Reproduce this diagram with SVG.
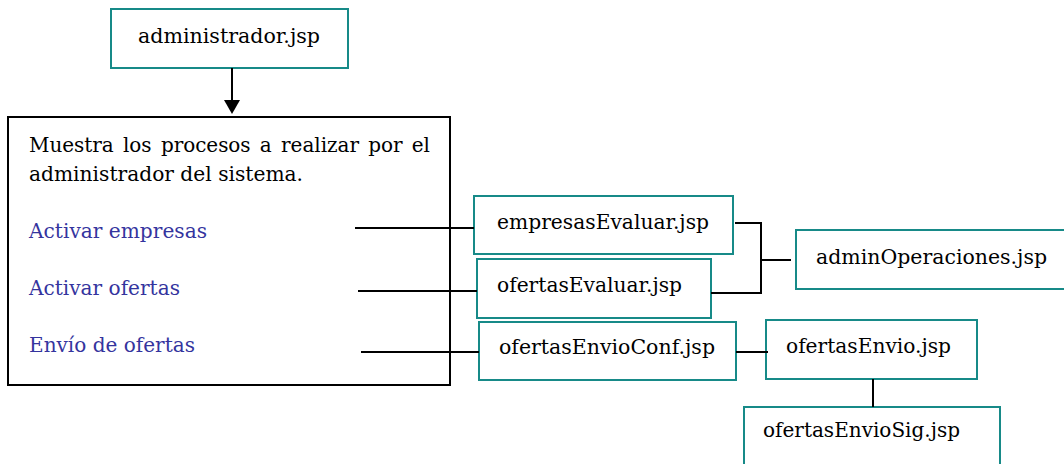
<svg xmlns="http://www.w3.org/2000/svg" width="1064" height="464" viewBox="0 0 1064 464">
<style>
.box{fill:#fff;stroke:#178a88;stroke-width:2}
.main{fill:#fff;stroke:#000;stroke-width:2}
.t{font-family:"DejaVu Serif","Liberation Serif",serif;font-size:20px;fill:#000}
.b{fill:#34349e}
.c{stroke:#000;stroke-width:2;fill:none}
</style>
<rect width="1064" height="464" fill="#fff"/>
<g id="administrador">
<rect class="box" x="111" y="9" width="237" height="59"/>
<text class="t" x="138" y="43" textLength="182" lengthAdjust="spacingAndGlyphs">administrador.jsp</text>
</g>
<g id="menu">
<rect class="main" x="8" y="117" width="442" height="268"/>
<text class="t" x="29" y="152" textLength="401" lengthAdjust="spacing" word-spacing="3">Muestra los procesos a realizar por el</text>
<text class="t" x="29" y="181" textLength="274" lengthAdjust="spacingAndGlyphs">administrador del sistema.</text>
<text class="t b" x="29" y="238" textLength="178" lengthAdjust="spacingAndGlyphs">Activar empresas</text>
<text class="t b" x="29" y="295" textLength="151" lengthAdjust="spacingAndGlyphs">Activar ofertas</text>
<text class="t b" x="29" y="352" textLength="166" lengthAdjust="spacingAndGlyphs">Envío de ofertas</text>
</g>
<g id="empresasEvaluar">
<rect class="box" x="474" y="196" width="259" height="58"/>
<text class="t" x="497" y="229" textLength="212" lengthAdjust="spacingAndGlyphs">empresasEvaluar.jsp</text>
</g>
<g id="ofertasEvaluar">
<rect class="box" x="477" y="259" width="234" height="59"/>
<text class="t" x="497" y="292" textLength="185" lengthAdjust="spacingAndGlyphs">ofertasEvaluar.jsp</text>
</g>
<g id="ofertasEnvioConf">
<rect class="box" x="479" y="322" width="257" height="58"/>
<text class="t" x="499" y="354" textLength="216" lengthAdjust="spacingAndGlyphs">ofertasEnvioConf.jsp</text>
</g>
<g id="adminOperaciones">
<rect class="box" x="796" y="230" width="270" height="59"/>
<text class="t" x="816" y="264" textLength="231" lengthAdjust="spacingAndGlyphs">adminOperaciones.jsp</text>
</g>
<g id="ofertasEnvio">
<rect class="box" x="766" y="320" width="211" height="59"/>
<text class="t" x="786" y="353" textLength="165" lengthAdjust="spacingAndGlyphs">ofertasEnvio.jsp</text>
</g>
<g id="ofertasEnvioSig">
<rect class="box" x="744" y="407" width="256" height="60"/>
<text class="t" x="763" y="437" textLength="197" lengthAdjust="spacingAndGlyphs">ofertasEnvioSig.jsp</text>
</g>
<g id="connectors">
<line class="c" x1="232" y1="68" x2="232" y2="101"/>
<polygon points="224,100 240,100 232,114" fill="#000"/>
<line class="c" x1="355" y1="228" x2="474" y2="228"/>
<line class="c" x1="358" y1="291" x2="477" y2="291"/>
<line class="c" x1="361" y1="352" x2="479" y2="352"/>
<polyline class="c" points="735,223 761,223 761,293 711,293"/>
<line class="c" x1="761" y1="260" x2="791" y2="260"/>
<line class="c" x1="736" y1="352" x2="768" y2="352"/>
<line class="c" x1="873" y1="379" x2="873" y2="407"/>
</g>
</svg>
